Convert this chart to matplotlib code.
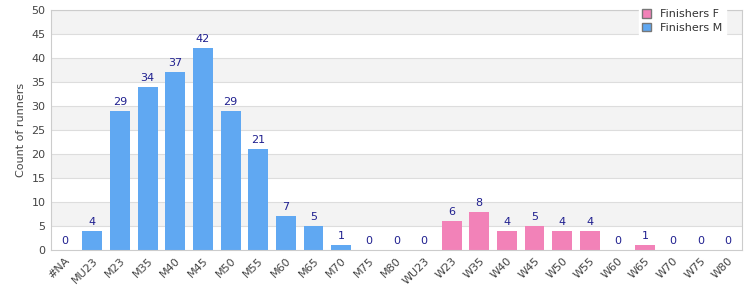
import numpy as np
import matplotlib
matplotlib.use("Agg")
import matplotlib.pyplot as plt
from matplotlib.patches import Patch

m_cats = ["#NA", "MU23", "M23", "M35", "M40", "M45", "M50", "M55", "M60", "M65", "M70", "M75", "M80"]
m_vals = [0, 4, 29, 34, 37, 42, 29, 21, 7, 5, 1, 0, 0]
f_cats = ["WU23", "W23", "W35", "W40", "W45", "W50", "W55", "W60", "W65", "W70", "W75", "W80"]
f_vals = [0, 6, 8, 4, 5, 4, 4, 0, 1, 0, 0, 0]

col_m = "#60a8f2"
col_f = "#f282b8"
lab_col = "#1f1f8f"
txt_col = "#444444"

cats = m_cats + f_cats
x = np.arange(len(cats))
xm = x[:len(m_cats)]
xf = x[len(m_cats):]

fig = plt.figure(figsize=(7.5, 3), dpi=100)
ax = fig.add_axes([0.068, 0.167, 0.921, 0.8])

for lo in range(0, 50, 5):
    if (lo // 5) % 2 == 1:
        ax.axhspan(lo, lo + 5, color="#f3f3f3", zorder=0, lw=0)
for y in range(5, 51, 5):
    ax.axhline(y, color="#dddddd", lw=0.8, zorder=0.5)

bm = ax.bar(xm, m_vals, width=0.72, color=col_m, zorder=2)
bf = ax.bar(xf, f_vals, width=0.72, color=col_f, zorder=2)
for bars, vals in ((bm, m_vals), (bf, f_vals)):
    for b, v in zip(bars, vals):
        ax.text(b.get_x() + b.get_width() / 2, v + 0.8, str(v), ha="center", va="bottom",
                fontsize=8, color=lab_col, zorder=3)

ax.set_xlim(-0.5, len(cats) - 0.5)
ax.set_ylim(0, 50)
ax.set_yticks(range(0, 51, 5))
ax.set_xticks(x)
ax.set_xticklabels(cats, rotation=45, ha="right", rotation_mode="anchor")
ax.tick_params(axis="both", length=0, labelsize=8, labelcolor=txt_col, pad=4)
ax.set_ylabel("Count of runners", fontsize=8, color=txt_col)

for s in ax.spines.values():
    s.set_color("#cccccc")
    s.set_linewidth(0.8)

handles = [Patch(facecolor=col_f, edgecolor="#777777", label="Finishers F"),
           Patch(facecolor=col_m, edgecolor="#777777", label="Finishers M")]
leg = ax.legend(handles=handles, loc="upper right", bbox_to_anchor=(0.985, 1.04), fontsize=8,
                frameon=True, fancybox=False, framealpha=1, edgecolor="white",
                handlelength=0.8, handleheight=0.8, borderpad=0.3, labelspacing=0.3)
leg.set_zorder(5)
for t in leg.get_texts():
    t.set_color("#333333")

fig.savefig("out.png", dpi=100)
